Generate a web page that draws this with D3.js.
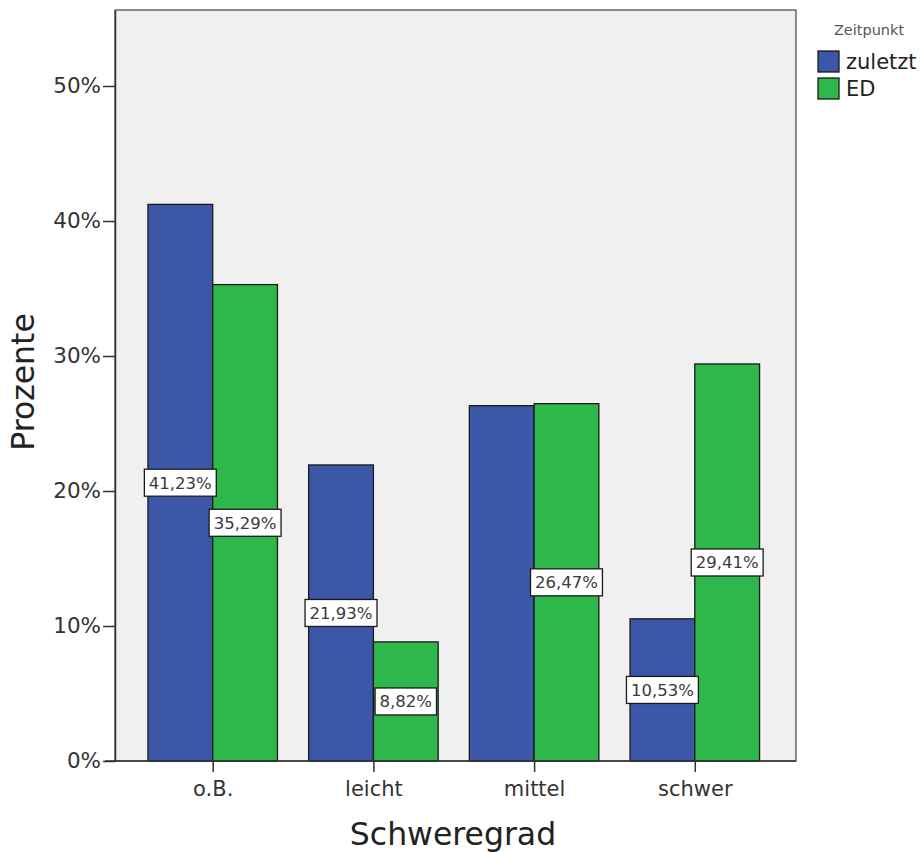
<!DOCTYPE html>
<html>
<head>
<meta charset="utf-8">
<script src="https://cdn.jsdelivr.net/npm/d3@7"></script>
<style>
  body { margin: 0; background: #fff; }
  svg { display: block; font-family: "DejaVu Sans", Verdana, sans-serif; }
</style>
</head>
<body>
<svg id="chart" width="923" height="852"></svg>
<script>
// Severity categories on the x axis
const categories = ["o.B.", "leicht", "mittel", "schwer"];
// Time points (legend)
const seriesNames = ["zuletzt", "ED"];
// Percentages per category
const zuletztValues = [41.23, 21.93, 26.32, 10.53];
const edValues = [35.29, 8.82, 26.47, 29.41];
// Which bars carry a value label
const zuletztLabelled = [true, true, false, true];
const edLabelled = [true, true, true, true];
const yTicks = [0, 10, 20, 30, 40, 50];
const colors = ["#3c56a8", "#2eb74a"];

const svg = d3.select("#chart");
const plot = { left: 115, right: 796, top: 10, bottom: 761 };

const x0 = d3.scaleBand().domain(categories)
  .range([plot.left, 792.5]).paddingInner(0.194).paddingOuter(0.205);
const x1 = d3.scaleBand().domain(seriesNames).range([0, x0.bandwidth()]);
const y = d3.scaleLinear().domain([0, 55.63]).range([plot.bottom, plot.top]);
const color = d3.scaleOrdinal().domain(seriesNames).range(colors);

// Plot background
svg.append("rect")
  .attr("x", plot.left).attr("y", plot.top)
  .attr("width", plot.right - plot.left).attr("height", plot.bottom - plot.top)
  .attr("fill", "#f0f0f0").attr("stroke", "#444").attr("stroke-width", 1.2);

const rows = categories.map((c, i) => ({
  cat: c,
  vals: [
    { s: "zuletzt", v: zuletztValues[i], lab: zuletztLabelled[i] },
    { s: "ED", v: edValues[i], lab: edLabelled[i] }
  ]
}));

const groups = svg.append("g").selectAll("g").data(rows).join("g")
  .attr("transform", d => `translate(${x0(d.cat)},0)`);

groups.selectAll("rect").data(d => d.vals).join("rect")
  .attr("x", d => x1(d.s))
  .attr("y", d => y(d.v))
  .attr("width", x1.bandwidth())
  .attr("height", d => y(0) - y(d.v))
  .attr("fill", d => color(d.s))
  .attr("stroke", "#1a1a1a").attr("stroke-width", 1.3);

// Value labels in white boxes at mid-height of each bar
const fmt = v => v.toFixed(2).replace(".", ",") + "%";
const labels = groups.selectAll("g.lab").data(d => d.vals.filter(v => v.lab)).join("g")
  .attr("class", "lab")
  .attr("transform", d => `translate(${x1(d.s) + x1.bandwidth() / 2},${(y(d.v) + y(0)) / 2})`);
const boxes = labels.append("rect")
  .attr("fill", "#fff").attr("stroke", "#1a1a1a").attr("stroke-width", 1.3);
const texts = labels.append("text")
  .attr("text-anchor", "middle").attr("dy", "0.36em")
  .attr("font-size", 16.5).attr("fill", "#3a3a3a")
  .text(d => fmt(d.v));
texts.each(function () {
  const w = this.getComputedTextLength() + 9;
  d3.select(this.previousSibling)
    .attr("x", -w / 2).attr("y", -13.5).attr("width", w).attr("height", 27);
});

// Y axis
const yAxis = svg.append("g").attr("transform", `translate(${plot.left},0)`)
  .call(d3.axisLeft(y).tickValues(yTicks).tickFormat(d => d + "%")
    .tickSize(12).tickPadding(2).tickSizeOuter(0));
yAxis.select(".domain").attr("stroke", "#333").attr("stroke-width", 1.5);
yAxis.selectAll(".tick line").attr("stroke", "#333").attr("stroke-width", 1.5);
yAxis.selectAll(".tick text").attr("font-size", 21.5).attr("fill", "#333")
  .attr("font-family", "DejaVu Sans, Verdana, sans-serif");

// X axis
const xAxis = svg.append("g").attr("transform", `translate(0,${plot.bottom})`)
  .call(d3.axisBottom(d3.scalePoint().domain(categories)
      .range([x0(categories[0]) + x0.bandwidth() / 2, x0(categories[3]) + x0.bandwidth() / 2]))
    .tickSize(11).tickPadding(9).tickSizeOuter(0));
xAxis.select(".domain").attr("d", `M${plot.left - 10},0H${plot.right}`)
  .attr("stroke", "#333").attr("stroke-width", 1.5);
xAxis.selectAll(".tick line").attr("stroke", "#333").attr("stroke-width", 1.5);
xAxis.selectAll(".tick text").attr("font-size", 21).attr("fill", "#333")
  .attr("font-family", "DejaVu Sans, Verdana, sans-serif");

// Axis titles
svg.append("text")
  .attr("x", 453).attr("y", 845)
  .attr("text-anchor", "middle").attr("font-size", 31.5).attr("fill", "#222")
  .text("Schweregrad");
svg.append("text")
  .attr("transform", `translate(34,382) rotate(-90)`)
  .attr("text-anchor", "middle").attr("font-size", 31.5).attr("fill", "#222")
  .text("Prozente");

// Legend
const legend = svg.append("g").attr("transform", "translate(818,0)");
legend.append("text").attr("x", 51).attr("y", 35).attr("text-anchor", "middle")
  .attr("font-size", 14.5).attr("fill", "#555").text("Zeitpunkt");
const items = legend.selectAll("g.item").data(seriesNames).join("g")
  .attr("class", "item")
  .attr("transform", (d, i) => `translate(0,${51 + i * 27})`);
items.append("rect").attr("width", 21).attr("height", 21)
  .attr("fill", d => color(d)).attr("stroke", "#1a1a1a").attr("stroke-width", 1.3);
items.append("text").attr("x", 28).attr("y", 10.5).attr("dy", "0.36em")
  .attr("font-size", 21).attr("fill", "#222").text(d => d);
</script>
</body>
</html>
